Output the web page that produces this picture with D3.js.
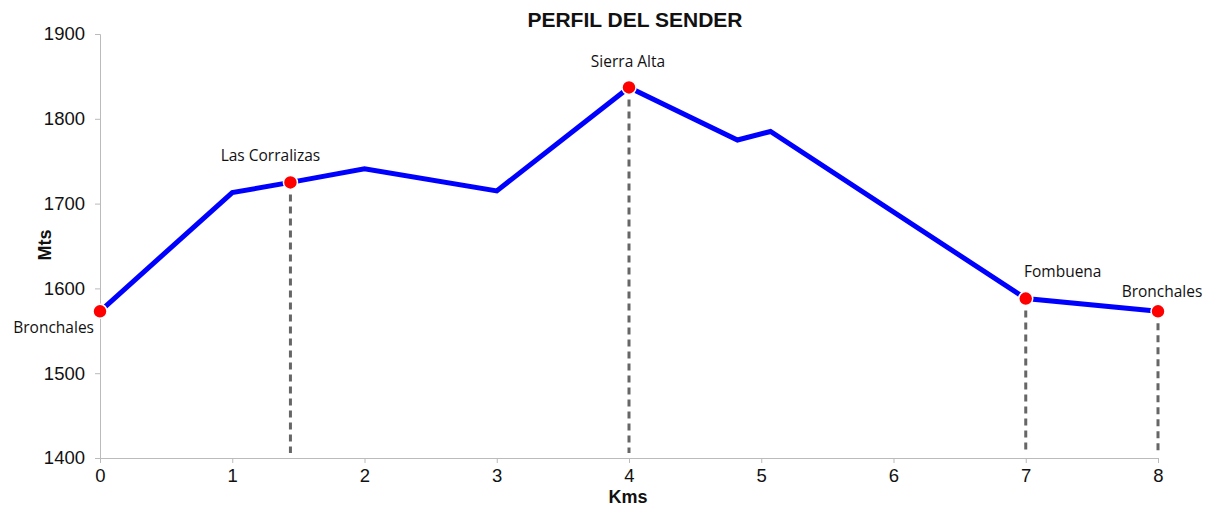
<!DOCTYPE html>
<html>
<head>
<meta charset="utf-8">
<script src="https://cdn.jsdelivr.net/npm/d3@7"></script>
<style>
  body { margin: 0; background: #fff; }
  text { font-family: "Liberation Sans", Arial, sans-serif; }
  .lbl { font-family: "Open Sans", sans-serif; font-size: 15.5px; fill: #111; }
</style>
</head>
<body>
<div id="chart"></div>
<script>
// profile points (km, metres)
var kms  = [0, 1, 1.44, 2, 3, 4, 4.82, 5.07, 7, 8];
var mts  = [1573, 1713, 1725, 1741, 1715, 1837, 1775, 1785, 1588, 1573];

// named stops along the trail
var stopNames = ['Bronchales', 'Las Corralizas', 'Sierra Alta', 'Fombuena', 'Bronchales'];
var stopKms   = [0, 1.44, 4, 7, 8];
var stopMts   = [1573, 1725, 1837, 1588, 1573];

var xTicks = [0, 1, 2, 3, 4, 5, 6, 7, 8];
var yTicks = [1400, 1500, 1600, 1700, 1800, 1900];

var W = 1216, H = 508;
var m = { left: 100, right: 58, top: 34, bottom: 50 };

var svg = d3.select("#chart").append("svg")
  .attr("width", W).attr("height", H);

var x = d3.scaleLinear().domain([0, 8]).range([m.left, W - m.right]);
var y = d3.scaleLinear().domain([1400, 1900]).range([H - m.bottom, m.top]);

// axes
var xAxis = svg.append("g")
  .attr("transform", "translate(0," + y(1400) + ")")
  .call(d3.axisBottom(x).tickValues(xTicks).tickSize(5).tickPadding(6).tickFormat(d3.format("d")));
var yAxis = svg.append("g")
  .attr("transform", "translate(" + x(0) + ",0)")
  .call(d3.axisLeft(y).tickValues(yTicks).tickSize(5).tickPadding(10).tickFormat(d3.format("d")));

[xAxis, yAxis].forEach(function(a) {
  a.select(".domain").attr("stroke", "#bbb");
  a.selectAll(".tick line").attr("stroke", "#bbb");
  a.selectAll(".tick text").attr("font-size", 18.5).attr("fill", "#111")
    .attr("font-family", "Liberation Sans, Arial, sans-serif");
});

// drop lines under named stops (not the start)
svg.selectAll("line.drop")
  .data(stopKms.slice(1)).enter()
  .append("line").attr("class", "drop")
  .attr("x1", function(d) { return x(d); })
  .attr("x2", function(d) { return x(d); })
  .attr("y1", function(d, i) { return y(stopMts[i + 1]); })
  .attr("y2", y(1400) - 5)
  .attr("stroke", "#666").attr("stroke-width", 3)
  .attr("stroke-dasharray", "7,5");

// profile line
var line = d3.line()
  .x(function(d, i) { return x(kms[i]); })
  .y(function(d) { return y(d); });

svg.append("path").datum(mts)
  .attr("d", line)
  .attr("fill", "none")
  .attr("stroke", "#0000ff")
  .attr("stroke-width", 5)
  .attr("stroke-linejoin", "miter");

// markers
svg.selectAll("circle.stop")
  .data(stopKms).enter()
  .append("circle").attr("class", "stop")
  .attr("cx", function(d) { return x(d); })
  .attr("cy", function(d, i) { return y(stopMts[i]); })
  .attr("r", 7)
  .attr("fill", "#ff0000")
  .attr("stroke", "#fff").attr("stroke-width", 1.5);

// stop labels: dx, dy from the marker and anchor
var lblOffset = [[-6, 22, "end"], [-20, -21, "middle"], [-1, -20, "middle"], [37, -22, "middle"], [4, -14, "middle"]];
svg.selectAll("text.lbl")
  .data(stopNames).enter()
  .append("text").attr("class", "lbl")
  .attr("x", function(d, i) { return x(stopKms[i]) + lblOffset[i][0]; })
  .attr("y", function(d, i) { return y(stopMts[i]) + lblOffset[i][1]; })
  .attr("text-anchor", function(d, i) { return lblOffset[i][2]; })
  .text(function(d) { return d; });

// titles
svg.append("text").attr("x", 635).attr("y", 27)
  .attr("text-anchor", "middle").attr("font-size", 21).attr("font-weight", "bold")
  .attr("fill", "#111").text("PERFIL DEL SENDER");

svg.append("text").attr("x", 628).attr("y", 503)
  .attr("text-anchor", "middle").attr("font-size", 18).attr("font-weight", "bold")
  .attr("fill", "#111").text("Kms");

svg.append("text")
  .attr("transform", "translate(51,245) rotate(-90)")
  .attr("text-anchor", "middle").attr("font-size", 18).attr("font-weight", "bold")
  .attr("fill", "#111").text("Mts");
</script>
</body>
</html>
